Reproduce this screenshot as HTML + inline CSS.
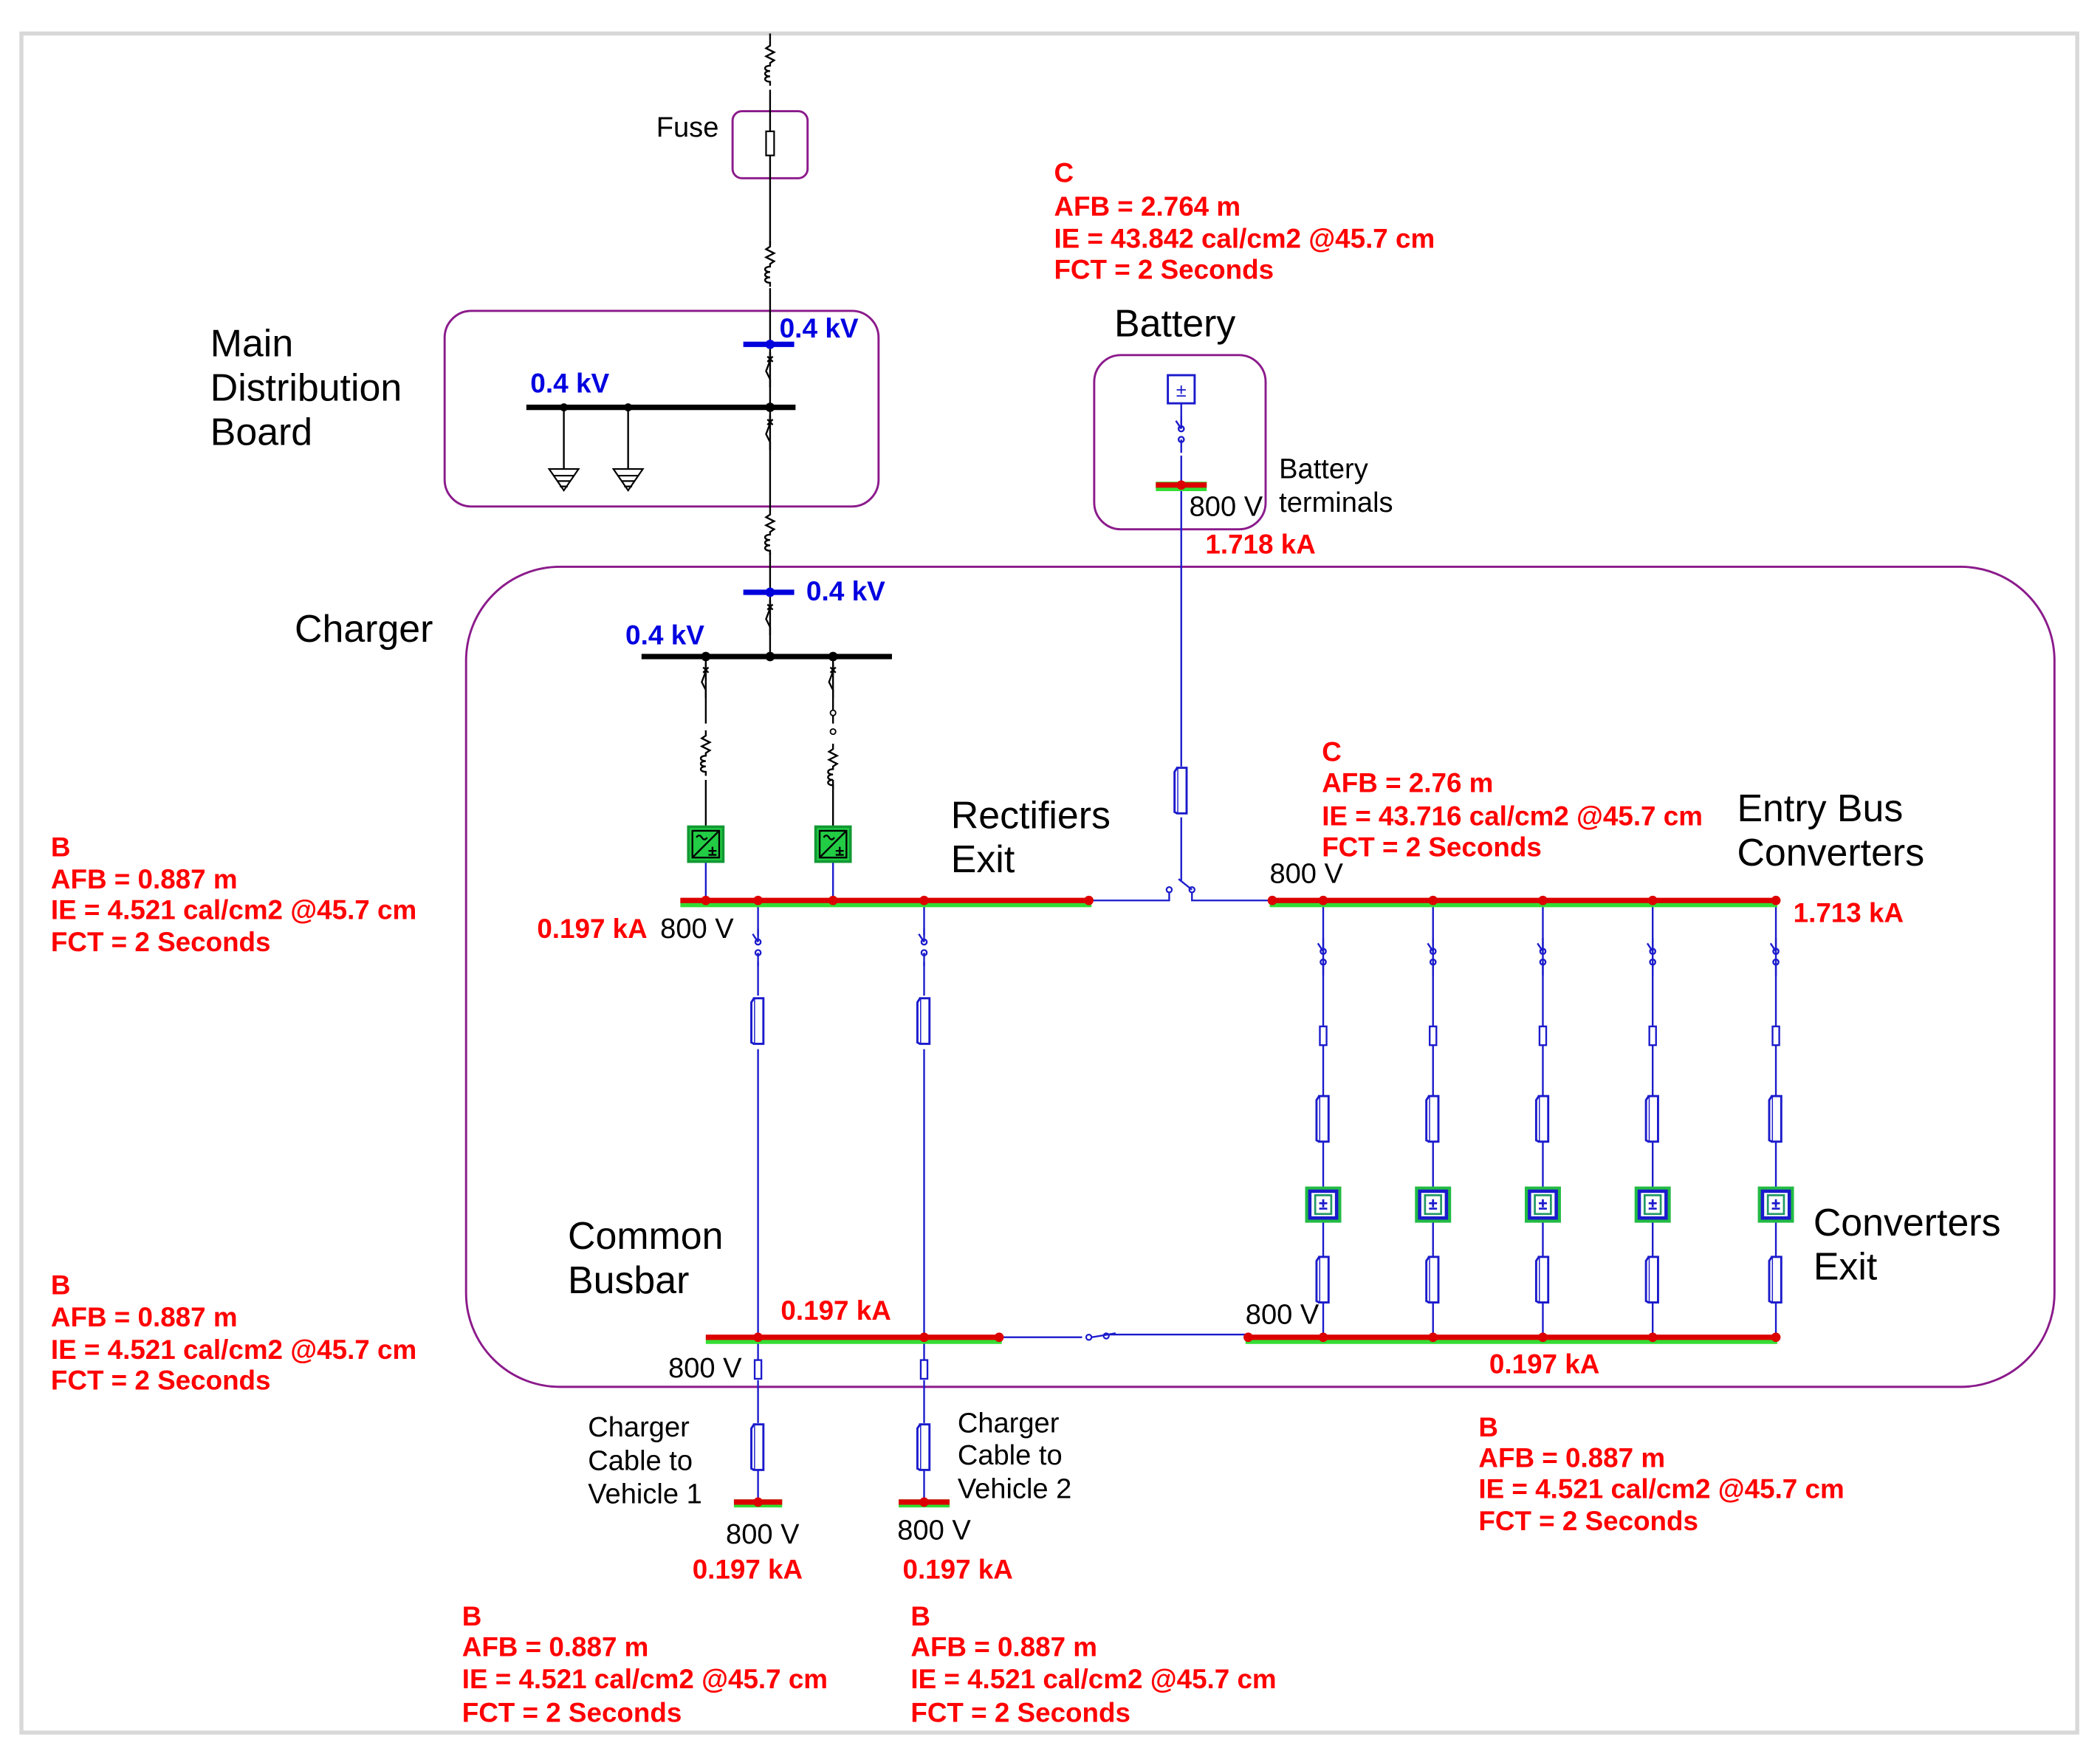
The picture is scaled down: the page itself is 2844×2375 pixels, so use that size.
<!DOCTYPE html>
<html><head><meta charset="utf-8"><style>
html,body{margin:0;padding:0;background:#fff;}
svg{display:block;}
text{font-family:"Liberation Sans",Arial,sans-serif;}
.r{fill:#ff0000;font-weight:bold;font-size:20.3px;}
.b{fill:#0000e0;font-weight:bold;font-size:20.4px;}
.k{fill:#000;font-size:28.6px;}
.s{fill:#000;font-size:21px;}
</style></head><body>
<svg width="2844" height="2375" viewBox="0 0 1568 1309" preserveAspectRatio="none" xmlns="http://www.w3.org/2000/svg">
<defs>
<g id="ind" fill="none" stroke="#000" stroke-width="1.3">
<path d="M0,0 v4 l-3,2 l6,3 l-6,3 l6,3 l-3,2 v2 c-5,0 -5,4 0,4 c-5,0 -5,4 0,4 c-5,0 -5,4 0,4 v3"/>
</g>
<g id="cb" fill="none" stroke="#000" stroke-width="1.3">
<path d="M0,0 v5 M-2,3 l4,4 M2,3 l-4,4 M0,6 l-3,8 l3,6 v6"/>
</g>
<g id="sw" fill="none" stroke="#1a1acc" stroke-width="1.3">
<path d="M0,0 v10 M0,10 l-4,-6 M0,18 v10"/><circle cx="0" cy="10" r="2"/><circle cx="0" cy="18" r="2"/>
</g>
<g id="cable" fill="#fff" stroke="#1a1acc" stroke-width="1.6">
<rect x="-3" y="0" width="7" height="34"/><path d="M-3,0 l-2,3 v30 l2,1"/>
</g>
<g id="fz" fill="#fff" stroke="#1a1acc" stroke-width="1.3"><rect x="-2.5" y="0" width="5" height="14"/></g>
<g id="conv">
<rect x="-12" y="-12" width="24" height="24" fill="#fff" stroke="#22bb44" stroke-width="3"/>
<rect x="-10" y="-10" width="20" height="20" fill="#fff" stroke="#1a1acc" stroke-width="2.5"/>
<rect x="-6" y="-7" width="12" height="14" fill="#fff" stroke="#229966" stroke-width="1.5"/>
<path d="M-3,-1 h6 M0,-4 v6 M-3,3 h6" stroke="#1a1acc" stroke-width="1.5"/>
</g>
<g id="rect">
<rect x="-13" y="-13" width="26" height="26" fill="#22cc44" stroke="#119933" stroke-width="2"/>
<rect x="-10" y="-10" width="20" height="20" fill="none" stroke="#000" stroke-width="1.3"/>
<path d="M-10,10 L10,-10 M-7,-5 q2,-3 4,0 q2,3 4,0 M2,5 h6 M5,2 v6 M2,8 h6" stroke="#000" stroke-width="1.3" fill="none"/>
</g>
<g id="gnd" stroke="#000" stroke-width="1.2" fill="#fff">
<path d="M-11,0 h22 l-11,16 z"/><path d="M-8,5 h16 M-5,9 h10 M-3,13 h6" fill="none"/>
</g>
</defs>

<rect x="16" y="25" width="1535" height="1268" fill="none" stroke="#d8d8d8" stroke-width="3"/>

<g fill="none" stroke="#8b1a8b" stroke-width="1.6">
<rect x="547" y="83" width="56" height="50" rx="7"/>
<rect x="332" y="232" width="324" height="146" rx="20"/>
<rect x="817" y="265" width="128" height="130" rx="20"/>
<rect x="348" y="423" width="1186" height="612" rx="70"/>
</g>

<g stroke="#000" stroke-width="1.3" fill="none">
<path d="M575,25 v5 M575,67 v116 M575,215 v42 M575,257 v47 M575,304 v76 M575,412 v30 M575,442 v48"/>
<path d="M421,304 v46 M469,304 v46"/>
<path d="M527,490 v50 M527,582 v36 M622,490 v50 M622,582 v36"/>
</g>
<use href="#ind" x="575" y="30"/>
<use href="#ind" x="575" y="180"/>
<use href="#ind" x="575" y="380"/>
<use href="#ind" x="527" y="545"/>
<use href="#ind" x="622" y="555"/>
<use href="#cb" x="575" y="263"/>
<use href="#cb" x="575" y="310"/>
<use href="#cb" x="575" y="448"/>
<use href="#cb" x="527" y="495"/>
<use href="#cb" x="622" y="495"/>
<circle cx="622" cy="532" r="2" fill="#fff" stroke="#000"/><circle cx="622" cy="546" r="2" fill="#fff" stroke="#000"/>
<rect x="572" y="98" width="6" height="18" fill="#fff" stroke="#000" stroke-width="1.2"/>
<use href="#gnd" x="421" y="350"/>
<use href="#gnd" x="469" y="350"/>
<line x1="555" y1="257" x2="593" y2="257" stroke="#0000dd" stroke-width="4"/>
<circle cx="575" cy="257" r="3.5" fill="#0000dd"/>
<line x1="393" y1="304" x2="594" y2="304" stroke="#000" stroke-width="4"/>
<circle cx="421" cy="304" r="3" fill="#000"/><circle cx="469" cy="304" r="3" fill="#000"/><circle cx="575" cy="304" r="3.5" fill="#000"/>
<line x1="555" y1="442" x2="593" y2="442" stroke="#0000dd" stroke-width="4"/>
<circle cx="575" cy="442" r="3.5" fill="#0000dd"/>
<line x1="479" y1="490" x2="666" y2="490" stroke="#000" stroke-width="4"/>
<circle cx="527" cy="490" r="3.5" fill="#000"/><circle cx="575" cy="490" r="3.5" fill="#000"/><circle cx="622" cy="490" r="3.5" fill="#000"/>

<g stroke="#1a1acc" stroke-width="1.3" fill="none">
<path d="M527,643 v29 M622,643 v29"/>
<path d="M882,301 v18 M882,340 v232 M882,610 v47"/>
<path d="M815,672 h58 v-8 M890,664 v8 h58"/>
<path d="M566,672 v26 M566,718 v25 M566,783 v215 M566,998 v18 M566,1030 v32 M566,1096 v25"/>
<path d="M690,672 v26 M690,718 v25 M690,783 v215 M690,998 v18 M690,1030 v32 M690,1096 v25"/>
<path d="M748,998 h60 M824,996 h106"/>
</g>
<circle cx="873" cy="664" r="2" fill="#fff" stroke="#1a1acc" stroke-width="1.2"/>
<circle cx="890" cy="664" r="2" fill="#fff" stroke="#1a1acc" stroke-width="1.2"/>
<path d="M880,656 l10,8" stroke="#1a1acc" stroke-width="1.3"/>
<circle cx="813" cy="998" r="2" fill="#fff" stroke="#1a1acc" stroke-width="1.2"/>
<circle cx="826" cy="997" r="2" fill="#fff" stroke="#1a1acc" stroke-width="1.2"/>
<path d="M815,998 l18,-3" stroke="#1a1acc" stroke-width="1.3"/>
<use href="#sw" x="882" y="310"/>
<use href="#sw" x="566" y="693"/>
<use href="#sw" x="690" y="693"/>
<use href="#cable" x="882" y="573"/>
<use href="#cable" x="566" y="745"/>
<use href="#cable" x="690" y="745"/>
<use href="#cable" x="566" y="1063"/>
<use href="#cable" x="690" y="1063"/>
<use href="#fz" x="566" y="1015"/>
<use href="#fz" x="690" y="1015"/>
<rect x="872" y="280" width="20" height="21" fill="#fff" stroke="#1a1acc" stroke-width="1.6"/>
<text x="882" y="296" text-anchor="middle" font-size="14" fill="#1a1acc" font-family="Liberation Sans">±</text>

<use href="#rect" x="527" y="630"/>
<use href="#rect" x="622" y="630"/>

<g id="br">
<g stroke="#1a1acc" stroke-width="1.3" fill="none">
<path d="M988,672 v328"/>
</g>
<use href="#sw" x="988" y="700"/>
<use href="#fz" x="988" y="766"/>
<use href="#cable" x="988" y="818"/>
<use href="#conv" x="988" y="899"/>
<use href="#cable" x="988" y="938"/>
</g>
<use href="#br" x="82"/>
<use href="#br" x="164"/>
<use href="#br" x="246"/>
<use href="#br" x="338"/>

<g>
<line x1="508" y1="674" x2="815" y2="674" stroke="#33dd33" stroke-width="6"/>
<line x1="508" y1="672" x2="815" y2="672" stroke="#dd0000" stroke-width="4"/>
<line x1="948" y1="674" x2="1327" y2="674" stroke="#33dd33" stroke-width="6"/>
<line x1="948" y1="672" x2="1327" y2="672" stroke="#dd0000" stroke-width="4"/>
<line x1="527" y1="1000" x2="748" y2="1000" stroke="#33dd33" stroke-width="6"/>
<line x1="527" y1="998" x2="748" y2="998" stroke="#dd0000" stroke-width="4"/>
<line x1="930" y1="1000" x2="1327" y2="1000" stroke="#33dd33" stroke-width="6"/>
<line x1="930" y1="998" x2="1327" y2="998" stroke="#dd0000" stroke-width="4"/>
<line x1="863" y1="363" x2="901" y2="363" stroke="#33dd33" stroke-width="7"/>
<line x1="863" y1="362" x2="901" y2="362" stroke="#dd0000" stroke-width="4"/>
<line x1="548" y1="1122" x2="584" y2="1122" stroke="#33dd33" stroke-width="6"/>
<line x1="548" y1="1121" x2="584" y2="1121" stroke="#dd0000" stroke-width="4"/>
<line x1="671" y1="1122" x2="709" y2="1122" stroke="#33dd33" stroke-width="6"/>
<line x1="671" y1="1121" x2="709" y2="1121" stroke="#dd0000" stroke-width="4"/>
</g>
<g fill="#dd0000">
<circle cx="527" cy="672" r="3.5"/><circle cx="566" cy="672" r="3.5"/><circle cx="622" cy="672" r="3.5"/><circle cx="690" cy="672" r="3.5"/><circle cx="813" cy="672" r="3.5"/>
<circle cx="950" cy="672" r="3.5"/><circle cx="988" cy="672" r="3.5"/><circle cx="1070" cy="672" r="3.5"/><circle cx="1152" cy="672" r="3.5"/><circle cx="1234" cy="672" r="3.5"/><circle cx="1326" cy="672" r="3.5"/>
<circle cx="566" cy="998" r="3.5"/><circle cx="690" cy="998" r="3.5"/><circle cx="746" cy="998" r="3.5"/>
<circle cx="932" cy="998" r="3.5"/><circle cx="988" cy="998" r="3.5"/><circle cx="1070" cy="998" r="3.5"/><circle cx="1152" cy="998" r="3.5"/><circle cx="1234" cy="998" r="3.5"/><circle cx="1326" cy="998" r="3.5"/>
<circle cx="882" cy="362" r="3.5"/><circle cx="566" cy="1121" r="3.5"/><circle cx="690" cy="1121" r="3.5"/>
</g>

<text class="s" x="490" y="102">Fuse</text>
<text class="k" x="157" y="266">Main</text>
<text class="k" x="157" y="299">Distribution</text>
<text class="k" x="157" y="332">Board</text>
<text class="b" x="582" y="252">0.4 kV</text>
<text class="b" x="396" y="293">0.4 kV</text>
<text class="b" x="602" y="448">0.4 kV</text>
<text class="b" x="467" y="481">0.4 kV</text>
<text class="k" x="220" y="479">Charger</text>
<text class="k" x="832" y="251">Battery</text>
<text class="s" x="955" y="357">Battery</text>
<text class="s" x="955" y="382">terminals</text>
<text class="s" x="888" y="385">800 V</text>
<text class="r" x="900" y="413">1.718 kA</text>
<text class="r" x="787" y="136">C</text>
<text class="r" x="787" y="161">AFB = 2.764 m</text>
<text class="r" x="787" y="185">IE = 43.842 cal/cm2 @45.7 cm</text>
<text class="r" x="787" y="208">FCT = 2 Seconds</text>
<text class="k" x="710" y="618">Rectifiers</text>
<text class="k" x="710" y="651">Exit</text>
<text class="r" x="987" y="568">C</text>
<text class="r" x="987" y="591">AFB = 2.76 m</text>
<text class="r" x="987" y="616">IE = 43.716 cal/cm2 @45.7 cm</text>
<text class="r" x="987" y="639">FCT = 2 Seconds</text>
<text class="k" x="1297" y="613">Entry Bus</text>
<text class="k" x="1297" y="646">Converters</text>
<text class="s" x="948" y="659">800 V</text>
<text class="r" x="1339" y="688">1.713 kA</text>
<text class="r" x="38" y="639">B</text>
<text class="r" x="38" y="663">AFB = 0.887 m</text>
<text class="r" x="38" y="686">IE = 4.521 cal/cm2 @45.7 cm</text>
<text class="r" x="38" y="710">FCT = 2 Seconds</text>
<text class="r" x="401" y="700">0.197 kA</text>
<text class="s" x="493" y="700">800 V</text>
<text class="k" x="424" y="932">Common</text>
<text class="k" x="424" y="965">Busbar</text>
<text class="r" x="583" y="985">0.197 kA</text>
<text class="s" x="930" y="988">800 V</text>
<text class="k" x="1354" y="922">Converters</text>
<text class="k" x="1354" y="955">Exit</text>
<text class="r" x="1112" y="1025">0.197 kA</text>
<text class="r" x="38" y="966">B</text>
<text class="r" x="38" y="990">AFB = 0.887 m</text>
<text class="r" x="38" y="1014">IE = 4.521 cal/cm2 @45.7 cm</text>
<text class="r" x="38" y="1037">FCT = 2 Seconds</text>
<text class="s" x="499" y="1028">800 V</text>
<text class="s" x="439" y="1072">Charger</text>
<text class="s" x="439" y="1097">Cable to</text>
<text class="s" x="439" y="1122">Vehicle 1</text>
<text class="s" x="715" y="1069">Charger</text>
<text class="s" x="715" y="1093">Cable to</text>
<text class="s" x="715" y="1118">Vehicle 2</text>
<text class="s" x="542" y="1152">800 V</text>
<text class="s" x="670" y="1149">800 V</text>
<text class="r" x="517" y="1178">0.197 kA</text>
<text class="r" x="674" y="1178">0.197 kA</text>
<text class="r" x="1104" y="1072">B</text>
<text class="r" x="1104" y="1095">AFB = 0.887 m</text>
<text class="r" x="1104" y="1118">IE = 4.521 cal/cm2 @45.7 cm</text>
<text class="r" x="1104" y="1142">FCT = 2 Seconds</text>
<text class="r" x="345" y="1213">B</text>
<text class="r" x="345" y="1236">AFB = 0.887 m</text>
<text class="r" x="345" y="1260">IE = 4.521 cal/cm2 @45.7 cm</text>
<text class="r" x="345" y="1285">FCT = 2 Seconds</text>
<text class="r" x="680" y="1213">B</text>
<text class="r" x="680" y="1236">AFB = 0.887 m</text>
<text class="r" x="680" y="1260">IE = 4.521 cal/cm2 @45.7 cm</text>
<text class="r" x="680" y="1285">FCT = 2 Seconds</text>
</svg>
</body></html>
